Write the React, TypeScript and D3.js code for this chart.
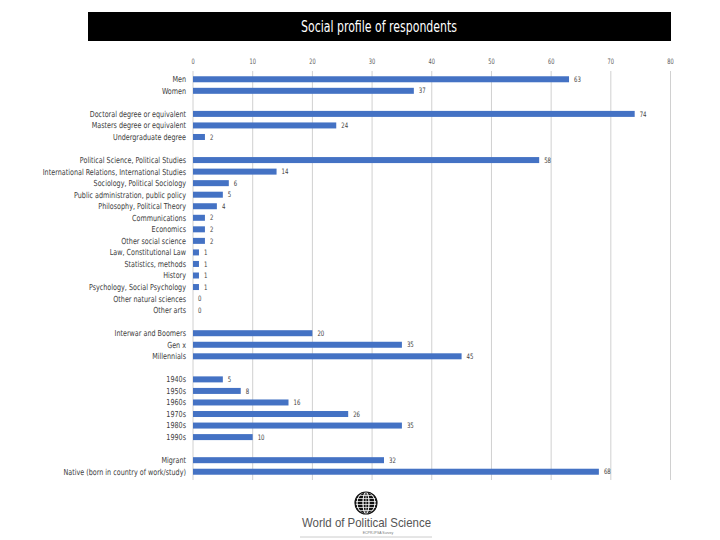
import React from "react";
import * as d3 from "d3";

const genderLabels = ["Men", "Women"];
const genderValues = [63, 37];
const degreeLabels = ["Doctoral degree or equivalent", "Masters degree or equivalent", "Undergraduate degree"];
const degreeValues = [74, 24, 2];
const disciplineLabels = [
  "Political Science, Political Studies",
  "International Relations, International Studies",
  "Sociology, Political Sociology",
  "Public administration, public policy",
  "Philosophy, Political Theory",
  "Communications",
  "Economics",
  "Other social science",
  "Law, Constitutional Law",
  "Statistics, methods",
  "History",
  "Psychology, Social Psychology",
  "Other natural sciences",
  "Other arts",
];
const disciplineValues = [58, 14, 6, 5, 4, 2, 2, 2, 1, 1, 1, 1, 0, 0];
const generationLabels = ["Interwar and Boomers", "Gen x", "Millennials"];
const generationValues = [20, 35, 45];
const decadeLabels = ["1940s", "1950s", "1960s", "1970s", "1980s", "1990s"];
const decadeValues = [5, 8, 16, 26, 35, 10];
const originLabels = ["Migrant", "Native (born in country of work/study)"];
const originValues = [32, 68];
const xTicks = [0, 10, 20, 30, 40, 50, 60, 70, 80];

const groups = [
  [genderLabels, genderValues],
  [degreeLabels, degreeValues],
  [disciplineLabels, disciplineValues],
  [generationLabels, generationValues],
  [decadeLabels, decadeValues],
  [originLabels, originValues],
] as [string[], number[]][];

type Row = { key: string; label: string; value: number | null };
const rows: Row[] = [];
groups.forEach(([labels, values], gi) => {
  if (gi > 0) rows.push({ key: "gap" + gi, label: "", value: null });
  labels.forEach((l, i) => rows.push({ key: l, label: l, value: values[i] }));
});

const FONT = "'DejaVu Sans Condensed', 'Liberation Sans Narrow', sans-serif";

export default function App() {
  const W = 720, H = 540;
  const x = d3.scaleLinear().domain([0, 80]).range([193, 670.5]);
  const y = d3.scaleBand<string>().domain(rows.map(r => r.key)).range([73.5, 477.5]).paddingInner(0.48).paddingOuter(0.24);
  const bh = y.bandwidth();
  return (
    <svg width={W} height={H} style={{ position: "absolute", left: 0, top: 0, background: "#fff" }}>
      <rect x={88} y={12} width={583} height={29} fill="#000" />
      <text x={379} y={32} fill="#fff" textAnchor="middle" fontFamily={FONT} fontSize={16} textLength={156} lengthAdjust="spacingAndGlyphs">Social profile of respondents</text>
      {xTicks.map(t => (
        <g key={t}>
          <line x1={x(t)} x2={x(t)} y1={71} y2={480} stroke="#d0d0d0" strokeWidth={1} />
          <text transform={`translate(${x(t)},64) scale(0.75,1)`} textAnchor="middle" fontFamily={FONT} fontSize={7.5} fill="#595959">{t}</text>
        </g>
      ))}
      {rows.map(r => {
        const yy = y(r.key)!;
        if (r.value === null) return null;
        return (
          <g key={r.key}>
            <rect x={x(0)} y={yy} width={x(r.value) - x(0)} height={bh} fill="#4472c4" />
            <text transform={`translate(186,${yy + bh / 2}) scale(0.86,1)`} dy="0.35em" textAnchor="end" fontFamily={FONT} fontSize={8.3} fill="#404040">{r.label}</text>
            <text transform={`translate(${x(r.value) + 5},${yy + bh / 2}) scale(0.8,1)`} dy="0.35em" fontFamily={FONT} fontSize={7.5} fill="#404040">{r.value}</text>
          </g>
        );
      })}
      <g>
        <circle cx={366} cy={503} r={11} fill="#111" />
        {[-7.5, -4.5, -1.5, 1.5, 4.5, 7.5].map(o => (
          <line key={"h" + o} x1={355} x2={377} y1={503 + o} y2={503 + o} stroke="#fff" strokeWidth={0.7} />
        ))}
        {[-6, -2, 2, 6].map(o => (
          <ellipse key={"v" + o} cx={366} cy={503} rx={Math.abs(o) * 1.5} ry={11} fill="none" stroke="#fff" strokeWidth={0.7} />
        ))}
        <line x1={366} x2={366} y1={492} y2={514} stroke="#fff" strokeWidth={0.7} />
        <circle cx={366} cy={503} r={11} fill="none" stroke="#111" strokeWidth={1.2} />
        <text x={366.5} y={527} textAnchor="middle" fontFamily="'Liberation Sans', sans-serif" fontSize={13} fill="#555" textLength={129} lengthAdjust="spacingAndGlyphs">World of Political Science</text>
        <text x={378} y={533.5} textAnchor="middle" fontFamily="'Liberation Sans', sans-serif" fontSize={3.5} fill="#777">ECPR-IPSA Survey</text>
        <line x1={300} x2={432} y1={537} y2={537} stroke="#ccc" strokeWidth={1} />
      </g>
    </svg>
  );
}
